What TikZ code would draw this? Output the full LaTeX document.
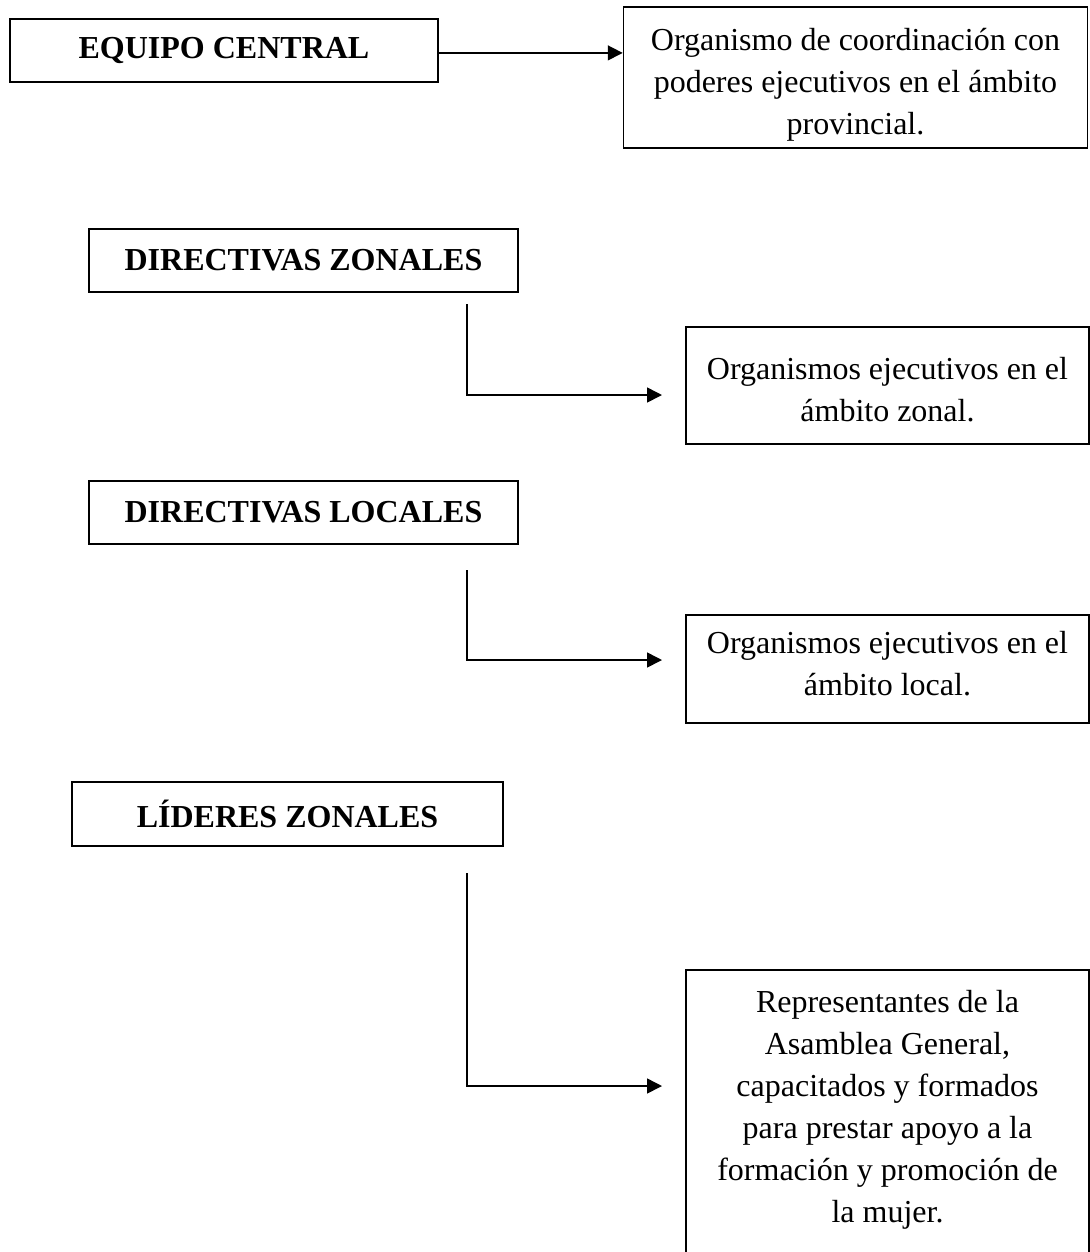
\documentclass[tikz,border=0pt]{standalone}
\usepackage{fontspec}
\setmainfont{Liberation Serif}
\usepackage{tikz}
\usetikzlibrary{arrows.meta}

\begin{document}
\begin{tikzpicture}[x=0.375pt, y=-0.375pt,
  caja/.style={draw, line width=0.6pt, inner sep=0pt},
  lcaja/.style={caja, font=\fontsize{12pt}{15.75pt}\selectfont\bfseries, minimum height=23.6pt},
  texto/.style={align=center, inner sep=0pt, anchor=base, font=\fontsize{12pt}{15.75pt}\selectfont},
  flecha/.style={-{Triangle[length=5.6pt,width=5.6pt]}, line width=0.6pt}]
\useasboundingbox (0,0) rectangle (1090,1252);
\clip (0,0) rectangle (1090,1252);
% equipo central
\node[lcaja, minimum width=160.5pt] (ec) at (224,50.5) {EQUIPO CENTRAL};
\node[caja, minimum width=174pt, minimum height=52.9pt] (prov) at (855.5,77.5) {};
\node[texto] (provT) at (855.5,134) {Organismo de coordinación con\\poderes ejecutivos en el ámbito\\provincial.};
\draw[flecha] ([yshift=-0.9pt]ec.east) -- ([yshift=-0.9pt]ec.east -| prov.west);
% zonal
\node[lcaja, minimum width=160.9pt] (dz) at (303.5,260.5) {DIRECTIVAS ZONALES};
\node[caja, minimum width=151.1pt, minimum height=43.9pt] (zon) at (887.5,385.5) {};
\node[texto] (zonT) at (887.5,421) {Organismos ejecutivos en el\\ámbito zonal.};
\coordinate (dzA) at (467,304);
\coordinate (dzB) at (662,395);
\draw[flecha] (dzA) |- (dzB);
% local
\node[lcaja, minimum width=160.9pt] (dl) at (303.5,512.5) {DIRECTIVAS LOCALES};
\node[caja, minimum width=151.1pt, minimum height=40.5pt] (loc) at (887.5,669) {};
\node[texto] (locT) at (887.5,695) {Organismos ejecutivos en el\\ámbito local.};
\coordinate (dlA) at (467,570);
\coordinate (dlB) at (662,660);
\draw[flecha] (dlA) |- (dlB);
% lideres
\node[lcaja, minimum width=161.6pt, minimum height=24pt] (lz) at (287.5,814) {LÍDERES ZONALES};
\node[caja, minimum width=151.1pt, minimum height=116.25pt] (rep) at (887.5,1125) {};
\node[texto] (repT) at (887.5,1222) {Representantes de la\\Asamblea General,\\capacitados y formados\\para prestar apoyo a la\\formación y promoción de\\la mujer.};
\coordinate (lzA) at (467,873);
\coordinate (lzB) at (662,1086);
\draw[flecha] (lzA) |- (lzB);
\end{tikzpicture}
\end{document}
